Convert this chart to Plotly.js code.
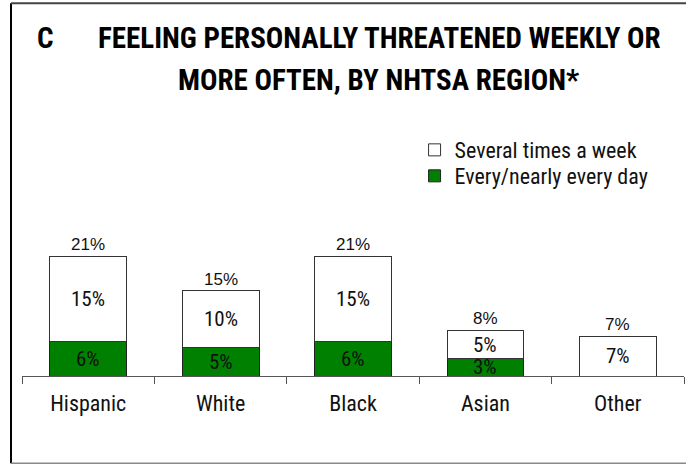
<!DOCTYPE html>
<html>
<head>
<meta charset="utf-8">
<script src="https://cdn.plot.ly/plotly-3.0.1.min.js"></script>
<style>html,body{margin:0;padding:0;background:#fff;}#chart{width:686px;height:465px;}</style>
</head>
<body>
<div id="chart"></div>
<script>
// ---- data ----
const categories = ['Hispanic', 'White', 'Black', 'Asian', 'Other'];
const everyDay = [6, 5, 6, 3, 0];          // Every/nearly every day (%)
const severalWeek = [15, 10, 15, 5, 7];    // Several times a week (%)
const totals = [21, 15, 21, 8, 7];         // total labels (%)
const titleLetter = 'C';
const titleLine1 = 'FEELING PERSONALLY THREATENED WEEKLY OR';
const titleLine2 = 'MORE OFTEN, BY NHTSA REGION*';

const NARROW = '"Roboto Condensed", "Liberation Sans", sans-serif';
const REG = '"Liberation Sans", Arial, sans-serif';

const traces = [
  {
    type: 'bar', name: 'Every/nearly every day', x: categories, y: everyDay,
    marker: {color: '#008000', line: {color: '#222', width: 1}},
    hoverinfo: 'none', legend: 'legend2'
  },
  {
    type: 'bar', name: 'Several times a week', x: categories, y: severalWeek,
    marker: {color: '#ffffff', line: {color: '#333', width: 1}},
    hoverinfo: 'none', legend: 'legend'
  }
];

const annotations = [];
categories.forEach((c, i) => {
  if (everyDay[i] > 0) {
    annotations.push({x: c, y: everyDay[i] / 2, xref: 'x', yref: 'y', text: everyDay[i] + '%',
      showarrow: false, font: {family: NARROW, size: 21, color: '#111'}});
  }
  if (severalWeek[i] > 0) {
    annotations.push({x: c, y: everyDay[i] + severalWeek[i] / 2, xref: 'x', yref: 'y', text: severalWeek[i] + '%',
      showarrow: false, font: {family: NARROW, size: 21, color: '#111'}});
  }
  annotations.push({x: c, y: totals[i], xref: 'x', yref: 'y', text: totals[i] + '%',
    showarrow: false, yanchor: 'bottom', yshift: 0, font: {family: REG, size: 17, color: '#111'}});
});
annotations.push({x: 0.0196, y: 1.484, xref: 'paper', yref: 'paper', xanchor: 'left', yanchor: 'middle',
  text: '<b>' + titleLetter + '</b>', showarrow: false, font: {family: NARROW, size: 29, color: '#000'}});
annotations.push({x: 0.540, y: 1.484, xref: 'paper', yref: 'paper', xanchor: 'center', yanchor: 'middle',
  text: '<b>' + titleLine1 + '</b>', showarrow: false, font: {family: NARROW, size: 29, color: '#000'}});
annotations.push({x: 0.538, y: 1.297, xref: 'paper', yref: 'paper', xanchor: 'center', yanchor: 'middle',
  text: '<b>' + titleLine2 + '</b>', showarrow: false, font: {family: NARROW, size: 29, color: '#000'}});

const legendBase = {
  xanchor: 'left', yanchor: 'middle',
  font: {family: NARROW, size: 22, color: '#111'}, bgcolor: 'rgba(0,0,0,0)'
};

const layout = {
  width: 686, height: 465,
  margin: {l: 22, r: 2, t: 148, b: 89, pad: 0},
  paper_bgcolor: '#fff', plot_bgcolor: '#fff',
  barmode: 'stack', bargap: 0.42,
  showlegend: true,
  legend: Object.assign({x: 0.593, y: 0.991}, legendBase),
  legend2: Object.assign({x: 0.593, y: 0.877}, legendBase),
  xaxis: {
    type: 'category', range: [-0.5, 4.5], showline: true, linecolor: '#555', linewidth: 1,
    ticks: 'outside', tickson: 'boundaries', ticklen: 7, tickcolor: '#555', tickwidth: 1,
    ticklabelstandoff: 8, showgrid: false, zeroline: false,
    tickfont: {family: NARROW, size: 22, color: '#111'}
  },
  yaxis: {range: [0, 40], visible: false, showgrid: false, zeroline: false},
  annotations: annotations,
  shapes: [
    {type: 'line', xref: 'paper', yref: 'paper', x0: -0.0166, x1: -0.0166, y0: -0.383, y1: 1.635, line: {color: '#000', width: 2}},
    {type: 'line', xref: 'paper', yref: 'paper', x0: -0.0166, x1: 1.01, y0: 1.635, y1: 1.635, line: {color: '#444', width: 2}},
    {type: 'line', xref: 'paper', yref: 'paper', x0: -0.0166, x1: 1.01, y0: -0.383, y1: -0.383, line: {color: '#888', width: 1.5}}
  ]
};

Plotly.newPlot('chart', traces, layout, {displayModeBar: false, staticPlot: true});
</script>
</body>
</html>
